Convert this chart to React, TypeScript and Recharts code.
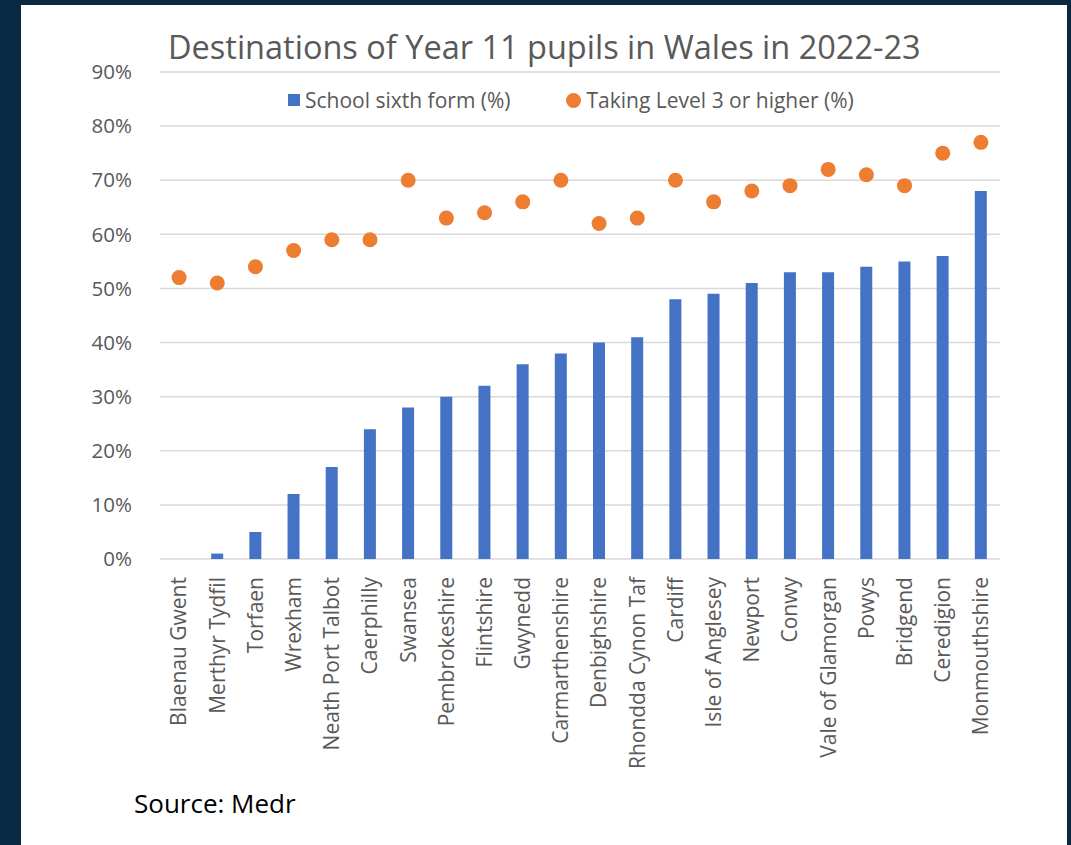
import { Bar, CartesianGrid, ComposedChart, Line, XAxis, YAxis } from 'recharts';

const regions = [
  'Blaenau Gwent', 'Merthyr Tydfil', 'Torfaen', 'Wrexham', 'Neath Port Talbot', 'Caerphilly',
  'Swansea', 'Pembrokeshire', 'Flintshire', 'Gwynedd', 'Carmarthenshire', 'Denbighshire',
  'Rhondda Cynon Taf', 'Cardiff', 'Isle of Anglesey', 'Newport', 'Conwy', 'Vale of Glamorgan',
  'Powys', 'Bridgend', 'Ceredigion', 'Monmouthshire',
];
const sixthForm = [0, 1, 5, 12, 17, 24, 28, 30, 32, 36, 38, 40, 41, 48, 49, 51, 53, 53, 54, 55, 56, 68];
const level3 = [52, 51, 54, 57, 59, 59, 70, 63, 64, 66, 70, 62, 63, 70, 66, 68, 69, 72, 71, 69, 75, 77];
const yTicks = [0, 10, 20, 30, 40, 50, 60, 70, 80, 90];

const data = regions.map((name, i) => ({ name, sixth: sixthForm[i], level3: level3[i] }));

const FONT = '"Open Sans", "Noto Sans", sans-serif';
const GREY = '#595959';
const BLUE = '#4472C4';
const ORANGE = '#ED7D31';

function XTick({ x, y, payload }: any) {
  return (
    <text
      x={x}
      y={y}
      transform={`rotate(-90, ${x}, ${y})`}
      textAnchor="end"
      dy="0.35em"
      fill={GREY}
      fontSize={21}
      fontFamily={FONT}
    >
      {payload.value}
    </text>
  );
}

function LegendBox() {
  return (
    <div
      style={{
        position: 'absolute', left: 288, top: 86, display: 'flex', alignItems: 'center',
        fontFamily: FONT, fontSize: 21, color: GREY, whiteSpace: 'nowrap',
      }}
    >
      <span style={{ width: 12, height: 12, background: BLUE, display: 'inline-block', marginRight: 5 }} />
      <span>School sixth form (%)</span>
      <span
        style={{
          width: 15, height: 15, borderRadius: 8, background: ORANGE,
          display: 'inline-block', marginLeft: 55, marginRight: 6,
        }}
      />
      <span>Taking Level 3 or higher (%)</span>
    </div>
  );
}

export default function App() {
  return (
    <div style={{ position: 'absolute', left: 0, top: 0, width: 1071, height: 845, background: '#0a2942', overflow: 'hidden' }}>
      <div style={{ position: 'absolute', left: 21, top: 5, width: 1046, height: 840, background: '#fff' }} />
      <div
        style={{
          position: 'absolute', left: 168, top: 24,
          fontFamily: FONT, fontSize: 32.5, color: GREY, whiteSpace: 'nowrap',
        }}
      >
        Destinations of Year 11 pupils in Wales in 2022-23
      </div>
      <div style={{ position: 'absolute', left: 0, top: 0 }}>
        <ComposedChart
          width={1071}
          height={845}
          data={data}
          margin={{ top: 72, right: 71, bottom: 0, left: 0 }}
        >
          <CartesianGrid vertical={false} stroke="#d9d9d9" strokeWidth={1.5} />
          <XAxis
            dataKey="name"
            interval={0}
            axisLine={false}
            tickLine={false}
            tick={<XTick />}
            tickMargin={12}
            height={286}
          />
          <YAxis
            domain={[0, 90]}
            ticks={yTicks}
            interval={0}
            tickFormatter={(v) => `${v}%`}
            axisLine={false}
            tickLine={false}
            width={160}
            tickMargin={22}
            tick={{ fill: GREY, fontSize: 20.5, fontFamily: FONT }}
          />
          <Bar dataKey="sixth" fill={BLUE} barSize={12} isAnimationActive={false} />
          <Line
            dataKey="level3"
            stroke="none"
            dot={{ r: 7.5, fill: ORANGE, stroke: 'none' }}
            activeDot={false}
            isAnimationActive={false}
          />
        </ComposedChart>
      </div>
      <LegendBox />
      <div
        style={{
          position: 'absolute', left: 134, top: 785, fontFamily: FONT, fontSize: 26, color: '#000',
        }}
      >
        Source: Medr
      </div>
    </div>
  );
}
